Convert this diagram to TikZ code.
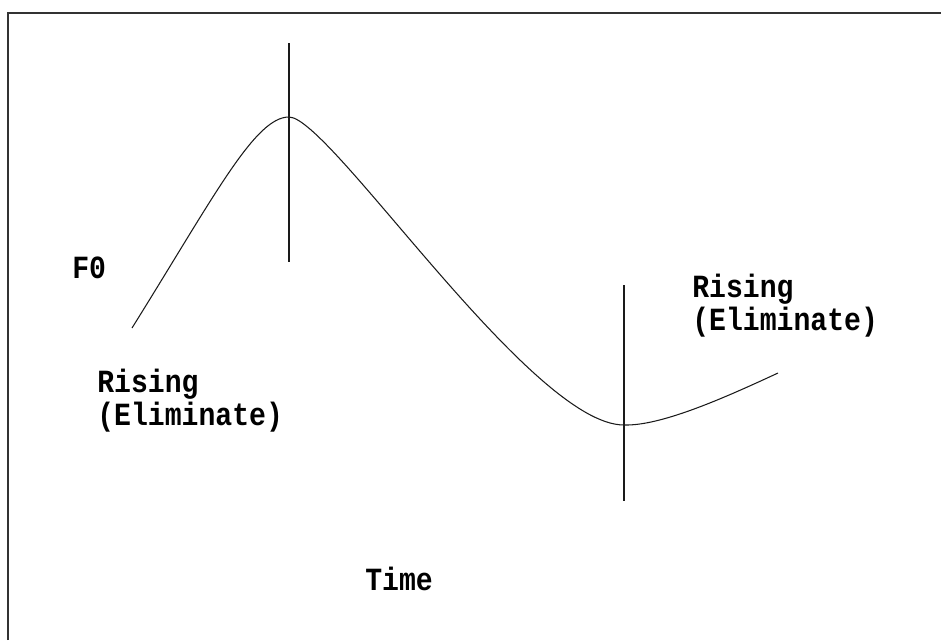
\documentclass[tikz,border=0pt]{standalone}
\usepackage{fontspec}
\setmonofont{Liberation Mono}
\usepackage{xcolor}
\usepackage{tikz}
\usetikzlibrary{positioning}
\definecolor{inkline}{HTML}{1a1a1a}
\definecolor{frameline}{HTML}{333333}

\begin{document}
\begin{tikzpicture}[
  x=0.02cm, y=-0.02cm,
  every node/.style={font=\fontsize{16}{16}\selectfont\ttfamily\bfseries},
  lbl/.style={anchor=north west, inner sep=0pt, align=left, yscale=1.15},
  frame/.style={line width=1.2pt, color=frameline},
  marker/.style={line width=1pt, color=inkline},
  contour/.style={line width=0.6pt, color=inkline},
]

\useasboundingbox (0,0) rectangle (941,640);

% Frame (only left and top edges show)
\draw[frame] (8,640) -- (8,13) -- (941,13);

% Boundary markers
\coordinate (start) at (132,328);
\coordinate (peak) at (289,117);
\coordinate (valley) at (624,425);
\coordinate (finish) at (778,373);
\draw[marker] (289,43) -- (peak) -- (289,262);
\draw[marker] (624,285) -- (valley) -- (624,501);

% F0 contour
\draw[contour] (start) .. controls (215,195) and (255,117) .. (peak)
  .. controls (330,117) and (531,425) .. (valley)
  .. controls (660,426) and (720,400) .. (finish);

% Labels
\node[lbl] (fzero) at (72,256) {F0};
\node[lbl] (riseleft) at (97,369) {Rising\\(Eliminate)};
\node[lbl] (riseright) at (692,274) {Rising\\(Eliminate)};
\node[lbl] (time) at (365,567) {Time};

\end{tikzpicture}
\end{document}
